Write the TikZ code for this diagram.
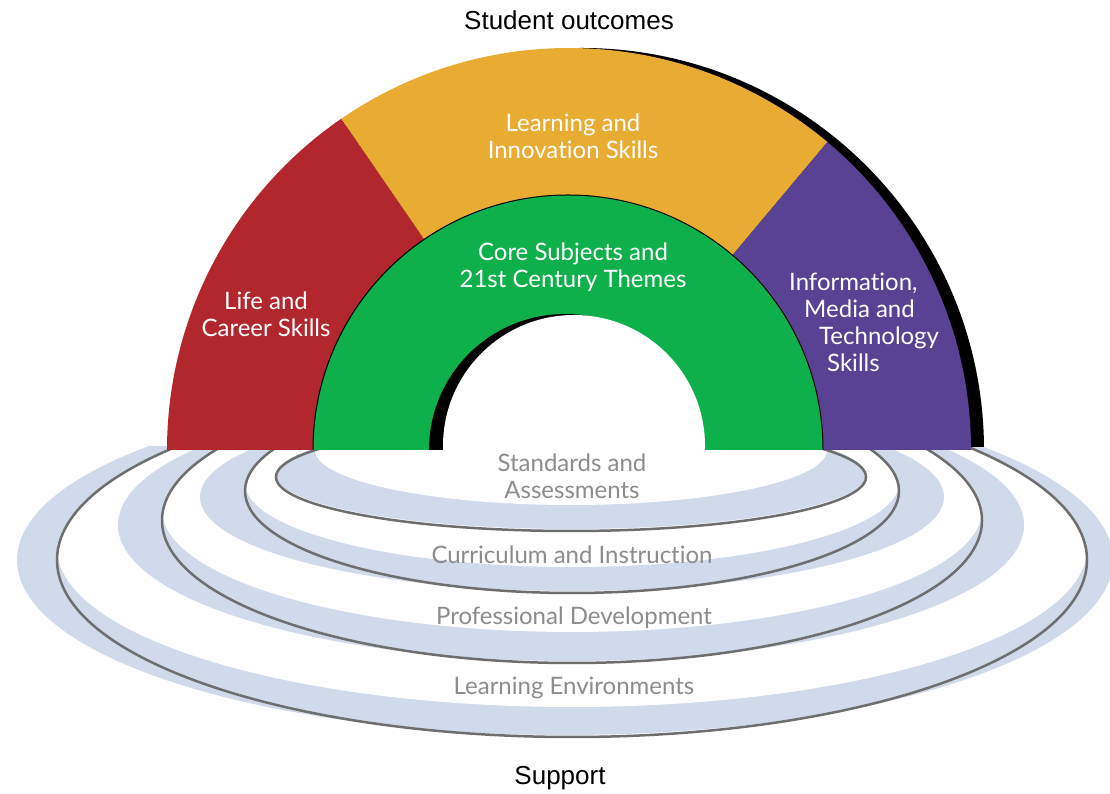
\documentclass[tikz,border=0pt]{standalone}
\usepackage{fontspec}
\setmainfont{Lato}[Ligatures=NoCommon]
\newfontfamily\captionfont{Liberation Sans}
\usepackage{tikz}
\usetikzlibrary{positioning}
\definecolor{ptred}{HTML}{B2272E}
\definecolor{ptorange}{HTML}{E8AC33}
\definecolor{ptpurple}{HTML}{594293}
\definecolor{ptgreen}{HTML}{0DB04B}
\definecolor{ptring}{HTML}{D0DAEB}
\definecolor{ptedge}{HTML}{6E6E6E}
\definecolor{ptgrey}{HTML}{8C8C8C}
\tikzset{
    % White label on the arch
    archlabel/.style={
        text=white,
        font=\fontsize{24}{27}\selectfont,
        align=center,
        inner sep=0pt
    },
    % Grey label on the support rings
    ringlabel/.style={
        text=ptgrey,
        font=\fontsize{24}{27}\selectfont,
        align=center,
        inner sep=0pt
    },
    % Caption above and below
    captionlabel/.style={
        font=\captionfont\fontsize{26}{30}\selectfont,
        inner sep=0pt
    },
    % Support ring band
    ringband/.style={
        fill=ptring
    },
    % Ring edge
    ringedge/.style={
        draw=ptedge,
        line width=2.5pt
    }
}

\begin{document}
\begin{tikzpicture}[x=1pt, y=1pt]
    \useasboundingbox (0,0) rectangle (1110,794);

    % support rings: outer ellipse / hole ellipse / edge ellipse
    \begin{scope}
        \clip (0,0) rectangle (1110,347);
        \foreach \ox/\oy/\orx/\ory/\ix/\iy/\irx/\iry/\ex/\ey/\erx/\ery in {
            565/234/548/175/572/246/515/159/572/234/515/177,
            571/269/453/136/572/284/410/122/572/273.5/410/142.5,
            572/297/372/94/572/311/327/84/572/303/327/102,
            571/319/295/54/571/344/256/55/571/317/295/54} {
            \fill[ringband] (\ox,\oy) ellipse[x radius=\orx, y radius=\ory];
            \begin{scope}
                \clip (\ix,\iy) ellipse[x radius=\irx, y radius=\iry];
                \fill[white] (\ex,\ey) ellipse[x radius=\erx, y radius=\ery];
            \end{scope}
            \draw[ringedge] (\ex,\ey) ellipse[x radius=\erx, y radius=\ery];
        }
    \end{scope}

    % arch
    \begin{scope}
        \clip (0,347) rectangle (1110,794);
        \fill[black] (582,344) circle[radius=402];
    \end{scope}
    \begin{scope}
        \clip (0,344) rectangle (1110,794);
        \fill[ptred] (569,344) -- ++(180:402) arc[start angle=180, end angle=124.5, radius=402] -- cycle;
        \fill[ptorange] (569,344) -- ++(124.5:402) arc[start angle=124.5, end angle=50, radius=402] -- cycle;
        \fill[ptpurple] (569,344) -- ++(50:402) arc[start angle=50, end angle=0, radius=402] -- cycle;
        \filldraw[fill=ptgreen, draw=black, line width=1pt] (568,344) circle[radius=255];
        \fill[black] (565,344) circle[radius=136];
        \fill[white] (574,348) circle[radius=131];
    \end{scope}

    % labels
    \node[archlabel] (learnSkills) at (573,658) {Learning and\\Innovation Skills};
    \node[archlabel] (coreSubjects) at (573,527) {Core Subjects and\\21st Century Themes};
    \node[archlabel] (lifeSkills) at (266,480) {Life and\\Career Skills};
    \node[archlabel, anchor=west, align=left] (infoSkills) at (789,472)
        {Information,\\\hspace*{15pt}Media and\\\hspace*{30pt}Technology\\\hspace*{38pt}Skills};

    \node[ringlabel] (standards) at (572,318) {Standards and\\Assessments};
    \node[ringlabel] (curriculum) at (572,239) {Curriculum and Instruction};
    \node[ringlabel] (profDev) at (574,176) {Professional Development};
    \node[ringlabel] (learnEnv) at (574,106) {Learning Environments};

    \node[captionlabel] (outcomes) at (569,774) {Student outcomes};
    \node[captionlabel] (support) at (560,16) {Support};
\end{tikzpicture}
\end{document}
